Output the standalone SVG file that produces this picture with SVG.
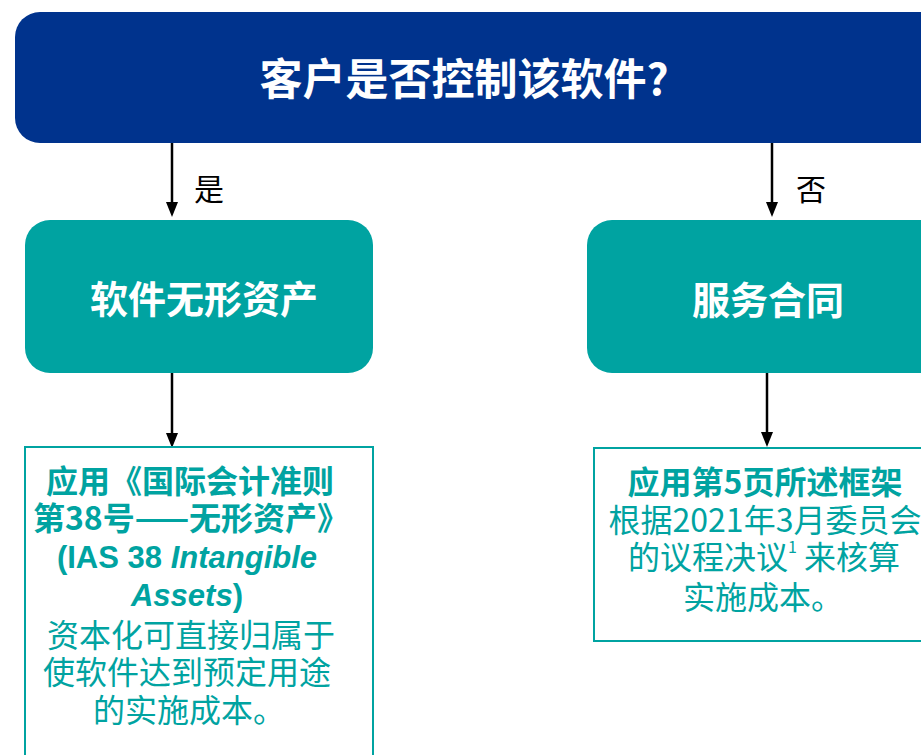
<svg xmlns="http://www.w3.org/2000/svg" width="921" height="755" viewBox="0 0 921 755">
<style>
.cjk{font-family:"Noto Sans CJK SC","Noto Sans",sans-serif}
.lat{font-family:"Liberation Sans",Arial,sans-serif}
.w{fill:#ffffff}
.t{fill:#00A3A1}
.b{font-weight:bold}
.c{text-anchor:middle;dominant-baseline:central}
.teal{fill:#00A3A1}
.out{fill:#ffffff;stroke:#00A3A1;stroke-width:2}
.ln{stroke:#000000;stroke-width:2.5;fill:none}
.hd{fill:#000000}
</style>
<rect width="921" height="755" fill="#ffffff"/>
<g id="connectors">
<line class="ln" x1="172" y1="143" x2="172" y2="203"/>
<path class="hd" d="M166,202 L178,202 L172,217 Z"/>
<line class="ln" x1="772" y1="143" x2="772" y2="203"/>
<path class="hd" d="M766,202 L778,202 L772,217 Z"/>
<line class="ln" x1="172" y1="373" x2="172" y2="434"/>
<path class="hd" d="M166,433 L178,433 L172,448 Z"/>
<line class="ln" x1="767" y1="372" x2="767" y2="433"/>
<path class="hd" d="M761,432 L773,432 L767,447 Z"/>
<text class="cjk c" x="209" y="187" font-size="30" fill="#000">是</text>
<text class="cjk c" x="811" y="187" font-size="30" fill="#000">否</text>
</g>
<g id="question">
<rect x="15" y="12" width="960" height="131" rx="25" fill="#00338D"/>
<text class="cjk c w b" x="464" y="76" font-size="43">客户是否控制该软件?</text>
</g>
<g id="intangible">
<rect class="teal" x="25" y="220" width="348" height="153" rx="25"/>
<text class="cjk c w b" x="204" y="296" font-size="38">软件无形资产</text>
</g>
<g id="service">
<rect class="teal" x="587" y="220" width="400" height="153" rx="25"/>
<text class="cjk c w b" x="768" y="297" font-size="38">服务合同</text>
</g>
<g id="ias38">
<rect class="out" x="25" y="447" width="348" height="340"/>
<text class="cjk c t b" x="190" y="479" font-size="32">应用《国际会计准则</text>
<text class="cjk c t b" x="191" y="516" font-size="32">第38号——无形资产》</text>
<text class="lat t b" x="187" y="568" font-size="31" text-anchor="middle">(IAS 38 <tspan font-style="italic">Intangible</tspan></text>
<text class="lat t b" x="187" y="606" font-size="31" text-anchor="middle"><tspan font-style="italic">Assets</tspan>)</text>
<text class="cjk c t" x="191" y="633" font-size="32">资本化可直接归属于</text>
<text class="cjk c t" x="187" y="670" font-size="32">使软件达到预定用途</text>
<text class="cjk c t" x="189" y="708" font-size="32">的实施成本。</text>
</g>
<g id="framework">
<rect class="out" x="594" y="448" width="400" height="193"/>
<text class="cjk c t b" x="765" y="480" font-size="32">应用第5页所述框架</text>
<text class="cjk c t" x="765" y="518" font-size="32">根据2021年3月委员会</text>
<text class="cjk c t" x="764" y="555" font-size="32">的议程决议<tspan font-size="16" dy="-9">1</tspan><tspan dy="9"> 来核算</tspan></text>
<text class="cjk c t" x="763" y="595" font-size="32">实施成本。</text>
</g>
</svg>
